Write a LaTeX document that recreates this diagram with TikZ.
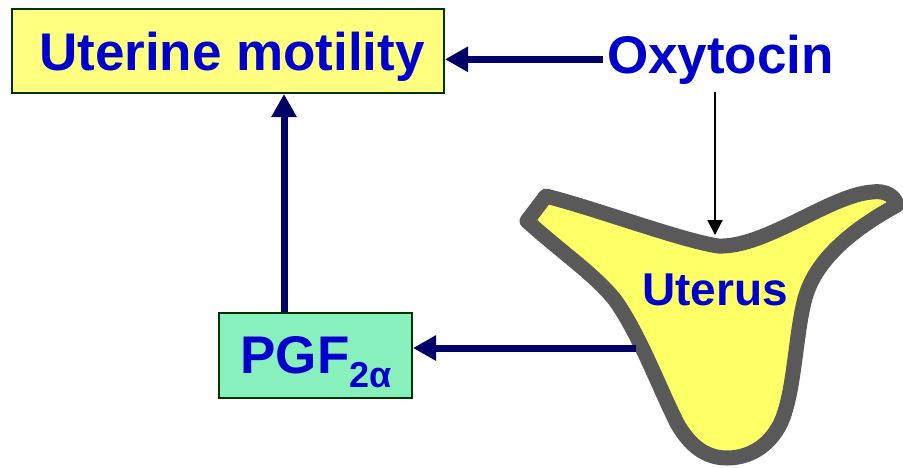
\documentclass[tikz,border=0pt]{standalone}
\usepackage{fontspec}
\setmainfont{Liberation Sans}
\usetikzlibrary{arrows.meta}
\definecolor{txtblue}{HTML}{0000CC}
\definecolor{navy}{HTML}{000066}
\definecolor{boxyellow}{HTML}{FFFF80}
\definecolor{uteryellow}{HTML}{FFFF66}
\definecolor{boxgreen}{HTML}{88F0BC}
\definecolor{edgegreen}{HTML}{003300}
\definecolor{wallgray}{HTML}{595959}
\begin{document}
\begin{tikzpicture}[x=1pt,y=-1pt,
  lbl/.style={text=txtblue,font=\fontsize{53}{60}\selectfont\bfseries,inner sep=4pt},
  panel/.style={draw=edgegreen,line width=2pt,inner sep=0pt},
  bigarrow/.style={draw=navy,line width=7pt,-{Triangle[length=23pt,width=24pt]}},
  thinarrow/.style={draw=black,line width=2pt,-{Triangle[length=15pt,width=15pt]}}]
\useasboundingbox (0,0) rectangle (903,467);

% boxes
\node[panel,fill=boxyellow,minimum width=432pt,minimum height=84pt] (motility) at (228,51) {};
\node[lbl,anchor=base] (motilitytext) at (232,70) {Uterine motility};
\node[panel,fill=boxgreen,minimum width=193pt,minimum height=85pt] (pgf) at (315.5,355.5) {};
\node[lbl,anchor=base] (pgftext) at (316,373) {PGF\raisebox{-14pt}{\fontsize{36}{40}\selectfont 2α}};

% hormone label
\node[lbl,anchor=base] (oxy) at (720.5,73) {Oxytocin};

% uterus outline: two horns on top, narrowing to a rounded base
\filldraw[fill=uteryellow,draw=wallgray,line width=15pt,line join=round]
  (546,196) .. controls (600,210) and (680,240) .. (718,246)
  .. controls (765,248) and (830,195) .. (872,192)
  .. controls (885,190) and (895,196) .. (897,205)
  .. controls (870,220) and (820,250) .. (806,295)
  .. controls (795,330) and (795,400) .. (778,428)
  .. controls (765,450) and (745,458) .. (727,458)
  .. controls (705,458) and (690,445) .. (678,425)
  .. controls (660,390) and (640,335) .. (615,300)
  .. controls (595,275) and (565,255) .. (527,221)
  -- cycle;
\node[text=txtblue,font=\fontsize{46}{52}\selectfont\bfseries,inner sep=0pt,anchor=base] (uterus) at (715,305) {Uterus};

% connectors
\coordinate (utop) at (715,235);
\coordinate (upx) at (284,0);
\coordinate (ustart) at (636,348);
\draw[bigarrow] (oxy.west) -- (oxy.west -| motility.east);
\draw[thinarrow] ([yshift=-4pt]oxy.south -| utop) -- (utop);
\draw[bigarrow] (pgf.north -| upx) -- (motility.south -| upx);
\draw[bigarrow] (ustart) -- (ustart -| pgf.east);
\end{tikzpicture}
\end{document}
